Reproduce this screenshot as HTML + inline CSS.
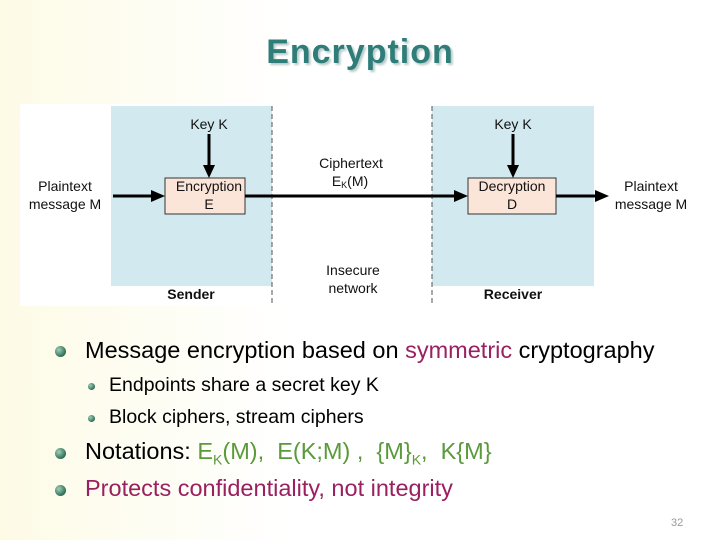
<!DOCTYPE html>
<html><head><style>
body{margin:0}
#s{position:relative;width:720px;height:540px;overflow:hidden;background:linear-gradient(90deg,#fdfbe6 0%,#fff 40%,#fff 100%);font-family:"Liberation Sans",sans-serif}
.t{position:absolute;white-space:nowrap}
.b{position:absolute;border-radius:50%;background:radial-gradient(circle at 35% 35%,#9fd0b8,#2e6e55 70%,#1d4a38)}
</style></head><body><div id="s">
<div class="t" style="left:0;width:720px;text-align:center;top:33px;font-size:34px;letter-spacing:1px;font-weight:bold;color:#2e7d78;text-shadow:2px 2px 2px #b8c8c8">Encryption</div>
<svg style="position:absolute;left:0;top:0" width="720" height="320">
<rect x="20" y="104" width="680" height="202" fill="#fff"/>
<rect x="111" y="106" width="161" height="180" fill="#d3e9f0"/>
<rect x="432" y="106" width="162" height="180" fill="#d3e9f0"/>
<line x1="272" y1="106" x2="272" y2="305" stroke="#555" stroke-dasharray="5,3"/>
<line x1="432" y1="106" x2="432" y2="305" stroke="#555" stroke-dasharray="5,3"/>
<rect x="165" y="178" width="80" height="36" fill="#fbe4d8" stroke="#333"/>
<rect x="468" y="178" width="88" height="36" fill="#fbe4d8" stroke="#333"/>
<g stroke="#000" stroke-width="3">
<line x1="113" y1="196" x2="152" y2="196"/>
<line x1="245" y1="196" x2="455" y2="196"/>
<line x1="556" y1="196" x2="596" y2="196"/>
<line x1="209" y1="134" x2="209" y2="166"/>
<line x1="513" y1="134" x2="513" y2="166"/>
</g>
<g fill="#000">
<polygon points="165,196 151,190 151,202"/>
<polygon points="468,196 454,190 454,202"/>
<polygon points="609,196 595,190 595,202"/>
<polygon points="209,178 203,165 215,165"/>
<polygon points="513,178 507,165 519,165"/>
</g>
<g font-family="Liberation Sans" font-size="14" text-anchor="middle" fill="#111">
<text x="209" y="129">Key K</text><text x="513" y="129">Key K</text>
<text x="209" y="191">Encryption</text><text x="209" y="209">E</text>
<text x="512" y="191">Decryption</text><text x="512" y="209">D</text>
<text x="65" y="191">Plaintext</text><text x="65" y="209">message M</text>
<text x="651" y="191">Plaintext</text><text x="651" y="209">message M</text>
<text x="351" y="168">Ciphertext</text><text x="350" y="186">E<tspan font-size="9" dy="2">K</tspan><tspan dy="-2">(M)</tspan></text>
<text x="353" y="275">Insecure</text><text x="353" y="293">network</text>
<text x="191" y="299" font-weight="bold">Sender</text><text x="513" y="299" font-weight="bold">Receiver</text>
</g>
</svg>
<div class="b" style="left:55px;top:346px;width:11px;height:11px"></div>
<div class="t" style="left:85px;top:337px;font-size:23.5px">Message encryption based on <span style="color:#9a2060">symmetric</span> cryptography</div>
<div class="b" style="left:88px;top:383px;width:7px;height:7px"></div>
<div class="t" style="left:109px;top:374px;font-size:19.5px">Endpoints share a secret key K</div>
<div class="b" style="left:88px;top:415px;width:7px;height:7px"></div>
<div class="t" style="left:109px;top:406px;font-size:19.5px">Block ciphers, stream ciphers</div>
<div class="b" style="left:55px;top:448px;width:11px;height:11px"></div>
<div class="t" style="left:85px;top:438px;font-size:23.5px">Notations: <span style="color:#5a9a3a">E<sub style="font-size:14px">K</sub>(M), &nbsp;E(K;M) , &nbsp;{M}<sub style="font-size:14px">K</sub>, &nbsp;K{M}</span></div>
<div class="b" style="left:55px;top:485px;width:11px;height:11px"></div>
<div class="t" style="left:85px;top:475px;font-size:23.5px;color:#9a2060">Protects confidentiality, not integrity</div>
<div class="t" style="left:671px;top:517px;font-size:11px;color:#999">32</div>
</div></body></html>
